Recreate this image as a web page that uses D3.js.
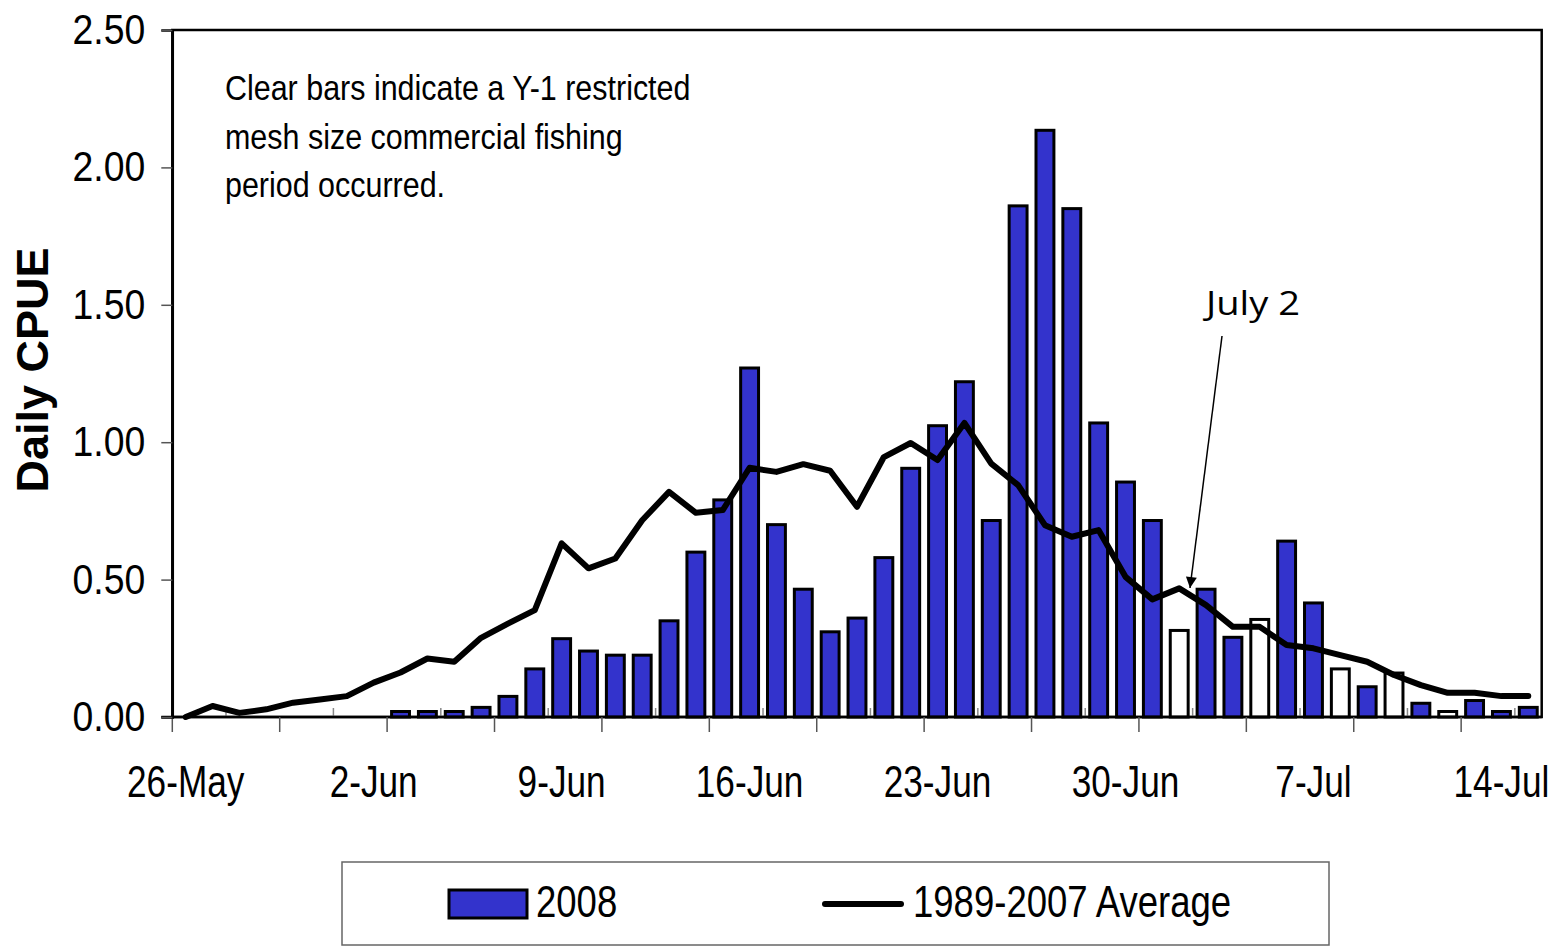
<!DOCTYPE html>
<html>
<head>
<meta charset="utf-8">
<script src="https://cdn.jsdelivr.net/npm/d3@7/dist/d3.min.js"></script>
<style>
  body { margin: 0; background: #fff; }
  svg { display: block; font-family: "Liberation Sans", Arial, sans-serif; }
</style>
</head>
<body>
<svg id="chart" width="1561" height="947"></svg>
<script>
// daily categories, 26-May through 15-Jul
var days = ["26-May","27-May","28-May","29-May","30-May","31-May",
    "1-Jun","2-Jun","3-Jun","4-Jun","5-Jun","6-Jun","7-Jun","8-Jun","9-Jun","10-Jun",
    "11-Jun","12-Jun","13-Jun","14-Jun","15-Jun","16-Jun","17-Jun","18-Jun","19-Jun","20-Jun",
    "21-Jun","22-Jun","23-Jun","24-Jun","25-Jun","26-Jun","27-Jun","28-Jun","29-Jun","30-Jun",
    "1-Jul","2-Jul","3-Jul","4-Jul","5-Jul","6-Jul","7-Jul","8-Jul","9-Jul","10-Jul",
    "11-Jul","12-Jul","13-Jul","14-Jul","15-Jul"];

// 2008 daily CPUE (null = no bar)
var cpue2008 = [null,null,null,null,null,null,null,null,0.02,0.02,
    0.02,0.035,0.075,0.175,0.285,0.24,0.225,0.225,0.35,0.60,
    0.79,1.27,0.70,0.465,0.31,0.36,0.58,0.905,1.06,1.22,
    0.715,1.86,2.135,1.85,1.07,0.855,0.715,0.315,0.465,0.29,
    0.355,0.64,0.415,0.175,0.11,0.16,0.05,0.02,0.06,0.02,0.035];

// days with a Y-1 restricted mesh fishing period (clear bars)
var clearDays = ["2-Jul","5-Jul","8-Jul","10-Jul","12-Jul"];

// 1989-2007 average
var avgCpue = [0.0,0.04,0.015,0.028,0.052,0.064,0.076,0.125,0.162,0.213,
    0.201,0.288,0.34,0.389,0.632,0.541,0.577,0.716,0.819,0.743,
    0.753,0.907,0.892,0.92,0.896,0.765,0.946,0.997,0.935,1.07,
    0.922,0.844,0.698,0.656,0.68,0.51,0.428,0.468,0.407,0.328,
    0.328,0.262,0.25,0.225,0.201,0.153,0.116,0.088,0.088,0.076,0.076];

var xLabels = ["26-May","2-Jun","9-Jun","16-Jun","23-Jun","30-Jun","7-Jul","14-Jul"];
var yTicks = [0, 0.5, 1.0, 1.5, 2.0, 2.5];

var noteLines = ["Clear bars indicate a Y-1 restricted",
    "mesh size commercial fishing",
    "period occurred."];

var plotL = 172.3, plotR = 1541.7, plotT = 30, plotB = 717;

var svg = d3.select("#chart");

var x = d3.scaleBand()
    .domain(days)
    .range([plotL, plotR])
    .paddingInner(1 / 3)
    .paddingOuter(1 / 6);

// boundary positions for tick marks
var xEdge = d3.scaleLinear().domain([0, days.length]).range([plotL, plotR]);

var y = d3.scaleLinear().domain([0, 2.5]).range([plotB, plotT]);

// squeeze text horizontally like the narrow original
function condense(sel, k) {
    sel.each(function() {
        var w = this.getComputedTextLength();
        d3.select(this).attr("textLength", w * k).attr("lengthAdjust", "spacingAndGlyphs");
    });
}

// plot frame
svg.append("rect")
    .attr("x", plotL).attr("y", plotT)
    .attr("width", plotR - plotL).attr("height", plotB - plotT)
    .attr("fill", "none").attr("stroke", "#000").attr("stroke-width", 2.5);

// minor ticks inside the plot
svg.append("g").selectAll("line")
    .data(d3.range(2, days.length, 4))
    .enter().append("line")
    .attr("x1", function(d) { return xEdge(d); })
    .attr("x2", function(d) { return xEdge(d); })
    .attr("y1", plotB).attr("y2", plotB - 9)
    .attr("stroke", "#888").attr("stroke-width", 1.5);

// bars
var bars = days.map(function(d, i) { return {day: d, v: cpue2008[i]}; })
    .filter(function(d) { return d.v !== null; });

svg.append("g").selectAll("rect")
    .data(bars)
    .enter().append("rect")
    .attr("x", function(d) { return x(d.day); })
    .attr("y", function(d) { return y(d.v); })
    .attr("width", x.bandwidth())
    .attr("height", function(d) { return plotB - y(d.v); })
    .attr("fill", function(d) { return clearDays.indexOf(d.day) >= 0 ? "#fff" : "#3333cc"; })
    .attr("stroke", "#000")
    .attr("stroke-width", 3);

// average line
var line = d3.line()
    .x(function(d, i) { return x(days[i]) + x.bandwidth() / 2; })
    .y(function(d) { return y(d); });

svg.append("path")
    .datum(avgCpue)
    .attr("d", line)
    .attr("fill", "none")
    .attr("stroke", "#000")
    .attr("stroke-width", 6)
    .attr("stroke-linejoin", "round")
    .attr("stroke-linecap", "round");

// x axis
svg.append("line")
    .attr("x1", plotL - 11).attr("x2", plotR)
    .attr("y1", plotB).attr("y2", plotB)
    .attr("stroke", "#000").attr("stroke-width", 2.5);

svg.append("g").selectAll("line")
    .data(d3.range(0, days.length, 4))
    .enter().append("line")
    .attr("x1", function(d) { return xEdge(d); })
    .attr("x2", function(d) { return xEdge(d); })
    .attr("y1", plotB).attr("y2", plotB + 15)
    .attr("stroke", "#555").attr("stroke-width", 1.5);

svg.append("g").selectAll("text")
    .data(xLabels)
    .enter().append("text")
    .attr("x", function(d) { return x(d) + x.bandwidth() / 2; })
    .attr("y", 797)
    .attr("text-anchor", "middle")
    .attr("font-size", 44)
    .text(function(d) { return d; })
    .call(condense, 0.8);

// y axis
var yAxis = d3.axisLeft(y)
    .tickValues(yTicks)
    .tickFormat(d3.format(".2f"))
    .tickSize(11)
    .tickPadding(16);

var yg = svg.append("g")
    .attr("transform", "translate(" + plotL + ",0)")
    .call(yAxis);

yg.select(".domain").attr("stroke", "#000").attr("stroke-width", 2.5);
yg.selectAll(".tick line").attr("stroke", "#555").attr("stroke-width", 1.5);
yg.selectAll(".tick text")
    .attr("font-size", 42)
    .attr("font-family", "Liberation Sans, Arial, sans-serif")
    .attr("fill", "#000")
    .call(condense, 0.89);

svg.append("text")
    .attr("transform", "translate(48,370) rotate(-90)")
    .attr("text-anchor", "middle")
    .attr("font-size", 45)
    .attr("font-weight", "bold")
    .text("Daily CPUE");

// note
svg.append("g").selectAll("text")
    .data(noteLines)
    .enter().append("text")
    .attr("x", 225)
    .attr("y", function(d, i) { return 100 + i * 48.5; })
    .attr("font-size", 35)
    .text(function(d) { return d; })
    .call(condense, 0.87);

// July 2 arrow
svg.append("defs").append("marker")
    .attr("id", "head")
    .attr("viewBox", "0 0 10 10")
    .attr("refX", 10).attr("refY", 5)
    .attr("markerWidth", 13).attr("markerHeight", 11)
    .attr("markerUnits", "userSpaceOnUse")
    .attr("orient", "auto")
    .append("path")
    .attr("d", "M0,0 L10,5 L0,10 z")
    .attr("fill", "#000");

svg.append("line")
    .attr("x1", 1222).attr("y1", 336)
    .attr("x2", 1190).attr("y2", 588)
    .attr("stroke", "#000").attr("stroke-width", 1.5)
    .attr("marker-end", "url(#head)");

svg.append("text")
    .attr("x", 1206).attr("y", 315)
    .attr("font-family", "Open Sans, sans-serif")
    .attr("font-size", 32)
    .attr("textLength", 94)
    .attr("lengthAdjust", "spacingAndGlyphs")
    .text("July 2");

// legend
var lg = svg.append("g");
lg.append("rect")
    .attr("x", 342).attr("y", 862)
    .attr("width", 987).attr("height", 83)
    .attr("fill", "#fff").attr("stroke", "#666").attr("stroke-width", 1.5);
lg.append("rect")
    .attr("x", 449).attr("y", 890)
    .attr("width", 78).attr("height", 28)
    .attr("fill", "#3333cc").attr("stroke", "#000").attr("stroke-width", 3);
lg.append("text")
    .attr("x", 536).attr("y", 917)
    .attr("font-size", 44)
    .text("2008")
    .call(condense, 0.83);
lg.append("line")
    .attr("x1", 825).attr("x2", 901)
    .attr("y1", 904).attr("y2", 904)
    .attr("stroke", "#000").attr("stroke-width", 6)
    .attr("stroke-linecap", "round");
lg.append("text")
    .attr("x", 913).attr("y", 917)
    .attr("font-size", 44)
    .text("1989-2007 Average")
    .call(condense, 0.83);
</script>
</body>
</html>
